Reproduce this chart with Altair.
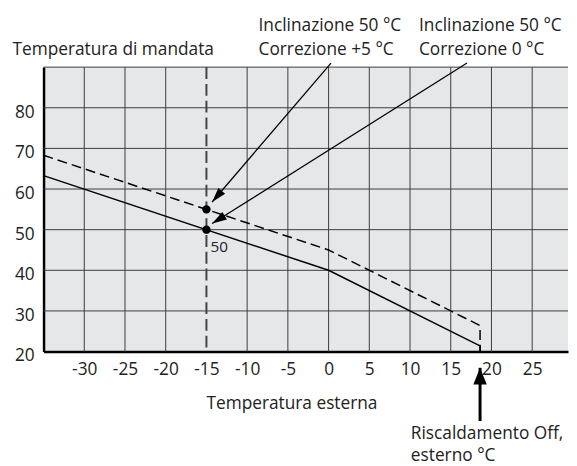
import math
import altair as alt
import pandas as pd

FONT = "Open Sans"
INK = "#222222"
GRID = "#3c3c3c"

# ---- axis values ----
x_ticks = [-30, -25, -20, -15, -10, -5, 0, 5, 10, 15, 20, 25]
y_ticks = [20, 30, 40, 50, 60, 70, 80]
x_grid = [-30, -25, -20, -10, -5, 0, 5, 10, 15, 20, 25]
y_grid = [30, 40, 50, 60, 70, 80, 90]

# ---- heating curves (outside temp -> flow temp) ----
curve0_x = [-35, 0, 18.6, 18.6]
curve0_y = [63.3, 40, 21.4, 20]
curve5_x = [-35, 0, 18.6, 18.6]
curve5_y = [68.3, 45, 26.4, 20]

design_x = [-15]
points_x = [-15, -15]
points_y = [55, 50]
point_label = ["50"]
point_label_x = [-14.5]
point_label_y = [44.6]

# ---- annotation arrows (tail -> tip) in data units ----
arrow_tail_x = [0.3, 17.0]
arrow_tail_y = [91.0, 91.0]
arrow_tip_x = [-14.3, -14.3]
arrow_tip_y = [56.8, 51.5]

off_arrow_x = [18.6]
off_arrow_tail_y = [2.9]
off_arrow_tip_y = [16.0]

# ---- annotation texts ----
ann_text = ["Inclinazione 50 °C", "Correzione +5 °C",
            "Inclinazione 50 °C", "Correzione 0 °C",
            "Riscaldamento Off,", "esterno °C"]
ann_x = [-8.6, -8.6, 11.1, 11.1, 10.1, 10.1]
ann_y = [99.0, 93.0, 99.0, 93.0, -1.6, -7.0]

X_DOMAIN = [-35, 29.4]
Y_DOMAIN = [20, 90]
W, H = 531, 288

xs = alt.Scale(domain=X_DOMAIN, nice=False, zero=False)
ys = alt.Scale(domain=Y_DOMAIN, nice=False, zero=False)

ppx = W / (X_DOMAIN[1] - X_DOMAIN[0])
ppy = H / (Y_DOMAIN[1] - Y_DOMAIN[0])


def head_angle(tx, ty, hx, hy):
    dx = (hx - tx) * ppx
    dy = -(hy - ty) * ppy
    return math.degrees(math.atan2(dx, -dy)) % 360


x_axis = alt.Axis(values=x_ticks, grid=False, ticks=False, domain=True,
                  domainColor="black", domainWidth=2.5, labelFont=FONT,
                  labelFontSize=17.5, labelColor=INK, labelPadding=23.5,
                  labelBaseline="alphabetic", labelOverlap=False,
                  labelFlush=False, labelExpr="'' + datum.value",
                  title="Temperatura esterna", titleFont=FONT,
                  titleFontSize=17.5, titleFontWeight="normal",
                  titleColor=INK, titleX=251, titleY=57.7,
                  titleAlign="center", titleBaseline="alphabetic")

y_axis = alt.Axis(values=y_ticks, grid=False, ticks=False, domain=True,
                  domainColor="black", domainWidth=2.5, labelFont=FONT,
                  labelFontSize=17.5, labelColor=INK, labelPadding=9.5,
                  labelBaseline="alphabetic", labelOffset=9.5,
                  labelOverlap=False, labelFlush=False,
                  title="Temperatura di mandata", titleFont=FONT,
                  titleFontSize=17.5, titleFontWeight="normal",
                  titleColor=INK, titleAngle=0, titleX=-32, titleY=-12.3,
                  titleAlign="left", titleBaseline="alphabetic")


def X(field):
    return alt.X(field, scale=xs, axis=x_axis)


def Y(field):
    return alt.Y(field, scale=ys, axis=y_axis)


vgrid = alt.Chart(pd.DataFrame({"x": x_grid})).mark_rule(
    color=GRID, strokeWidth=1).encode(x=X("x:Q"))

hgrid = alt.Chart(pd.DataFrame({"y": y_grid})).mark_rule(
    color=GRID, strokeWidth=1).encode(y=Y("y:Q"))

design = alt.Chart(pd.DataFrame({"x": design_x})).mark_rule(
    color="#444444", strokeWidth=2, strokeDash=[12, 5]).encode(x=X("x:Q"))

c0 = pd.DataFrame({"x": curve0_x, "y": curve0_y, "o": range(len(curve0_x))})
c5 = pd.DataFrame({"x": curve5_x, "y": curve5_y, "o": range(len(curve5_x))})

line0 = alt.Chart(c0).mark_line(color="black", strokeWidth=1.5).encode(
    x=X("x:Q"), y=Y("y:Q"), order="o:Q")

line5 = alt.Chart(c5).mark_line(color="black", strokeWidth=1.5,
                                strokeDash=[10, 5]).encode(
    x=X("x:Q"), y=Y("y:Q"), order="o:Q")

pts = alt.Chart(pd.DataFrame({"x": points_x, "y": points_y})).mark_circle(
    color="black", size=72, opacity=1).encode(x=X("x:Q"), y=Y("y:Q"))

plabel = alt.Chart(pd.DataFrame({"x": point_label_x, "y": point_label_y,
                                 "t": point_label})).mark_text(
    align="left", baseline="alphabetic", font=FONT, fontSize=15.5,
    color=INK).encode(x=X("x:Q"), y=Y("y:Q"), text="t:N")

arr = pd.DataFrame({"x": arrow_tail_x, "y": arrow_tail_y,
                    "x2": arrow_tip_x, "y2": arrow_tip_y})
arr["angle"] = [head_angle(a, b, c, d) for a, b, c, d in
                zip(arrow_tail_x, arrow_tail_y, arrow_tip_x, arrow_tip_y)]

arrow_lines = alt.Chart(arr).mark_rule(color="black", strokeWidth=1.3).encode(
    x=X("x:Q"), y=Y("y:Q"), x2="x2:Q", y2="y2:Q")

arrow_heads = alt.Chart(arr).transform_calculate(
    hx="datum.x2", hy="datum.y2").mark_point(
    shape="M0,0L-0.6,2L0.6,2Z", filled=True, size=225, color="black",
    opacity=1, strokeWidth=0).encode(
    x=X("hx:Q"), y=Y("hy:Q"), angle=alt.Angle("angle:Q", scale=None))

off = pd.DataFrame({"x": off_arrow_x, "y": off_arrow_tail_y,
                    "y2": off_arrow_tip_y})
off["angle"] = [head_angle(a, b, a, c) for a, b, c in
                zip(off_arrow_x, off_arrow_tail_y, off_arrow_tip_y)]

off_line = alt.Chart(off).mark_rule(color="black", strokeWidth=3).encode(
    x=X("x:Q"), y=Y("y:Q"), y2="y2:Q")

off_head = alt.Chart(off).transform_calculate(hy="datum.y2").mark_point(
    shape="M0,0L-0.8,2L0.8,2Z", filled=True, size=289, color="black",
    opacity=1, strokeWidth=0).encode(
    x=X("x:Q"), y=Y("hy:Q"), angle=alt.Angle("angle:Q", scale=None))

texts = alt.Chart(pd.DataFrame({"x": ann_x, "y": ann_y, "t": ann_text})).mark_text(
    align="left", baseline="alphabetic", font=FONT, fontSize=17.5,
    color=INK).encode(x=X("x:Q"), y=Y("y:Q"), text="t:N")

chart = alt.layer(
    vgrid, hgrid, design, line0, line5, pts, plabel,
    arrow_lines, arrow_heads, off_line, off_head, texts
).properties(
    width=W, height=H,
    padding={"left": 36, "top": 57, "right": 1, "bottom": 113},
    autosize=alt.AutoSizeParams(type="none"),
    background="white",
).configure_view(fill="#e6e7e9", stroke=None)

chart.save("out.html", embed_options={"renderer": "svg", "actions": False})
